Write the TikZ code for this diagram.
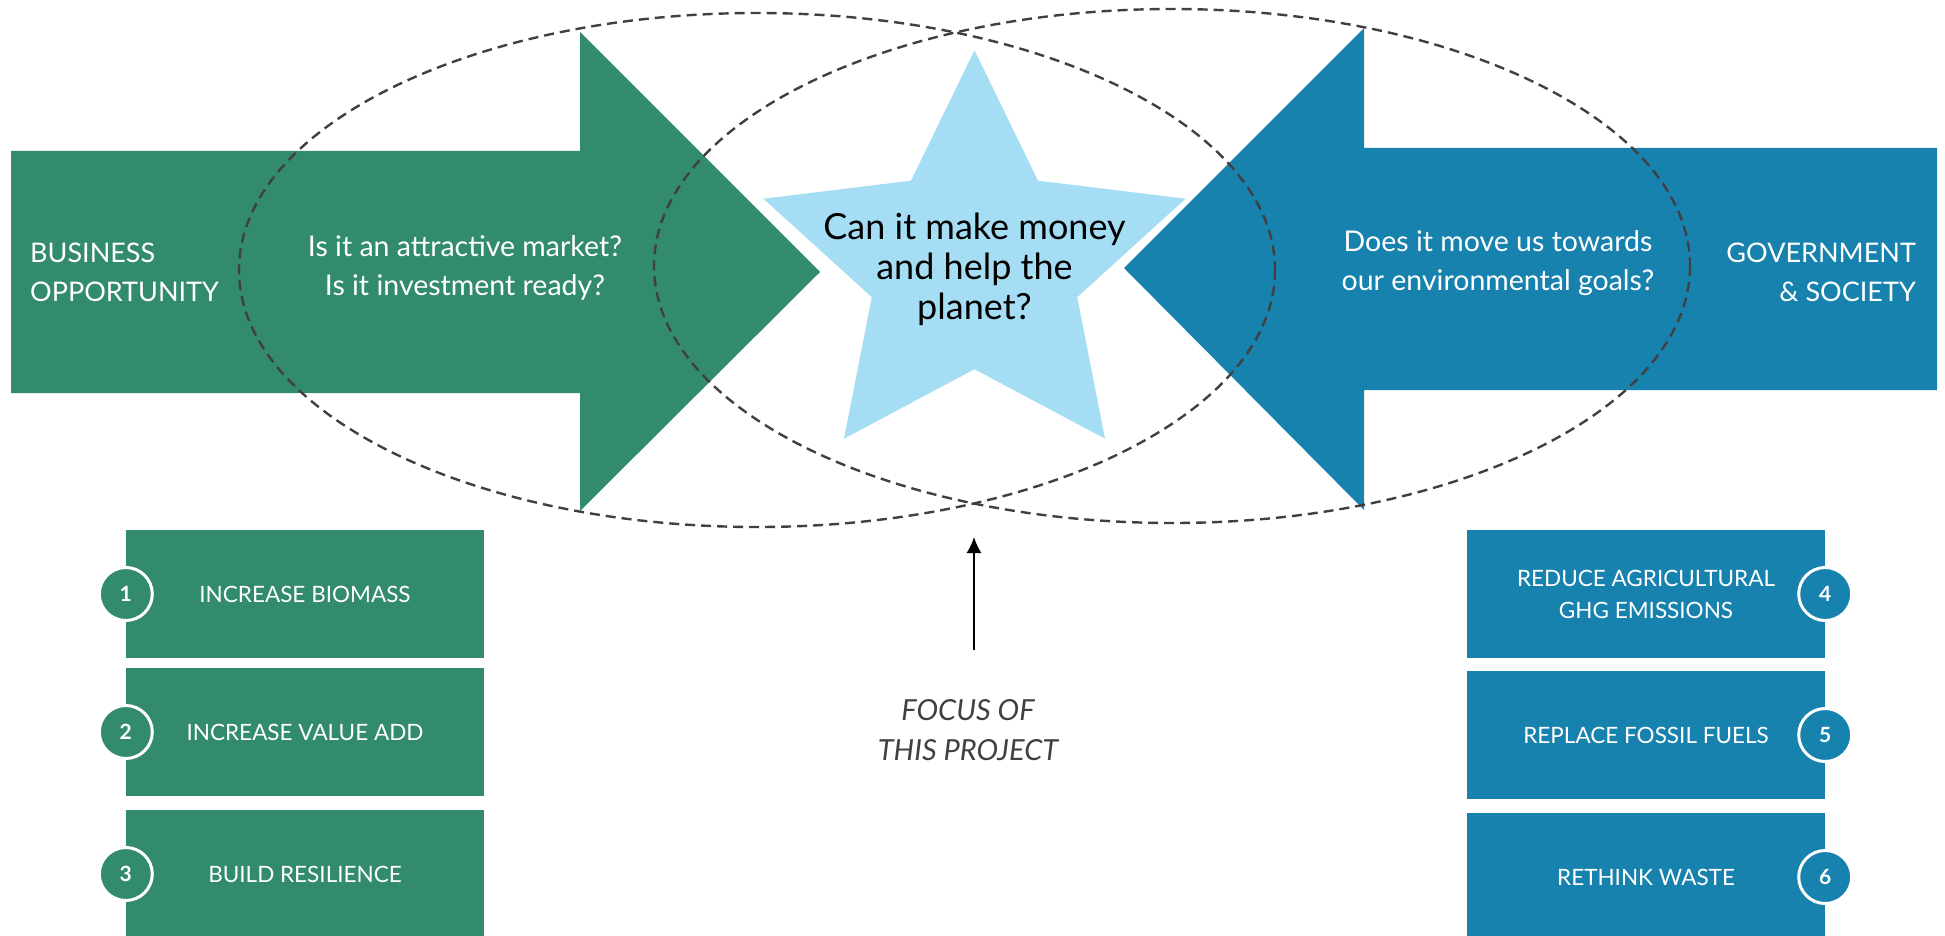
\documentclass[tikz,border=0pt]{standalone}
\usepackage{fontspec}
\setmainfont{Lato}
\usetikzlibrary{arrows.meta}
\definecolor{leafgreen}{RGB}{50,139,111}
\definecolor{seablue}{RGB}{23,130,174}
\definecolor{skyblue}{RGB}{165,222,244}
\definecolor{dashgray}{RGB}{64,64,64}
\tikzset{
  goalbox/.style={minimum width=358pt, minimum height=128pt, inner sep=0pt, text=white, align=center, font=\fontsize{22.5}{32}\selectfont},
  goalnum/.style={circle, draw=white, line width=3pt, minimum size=53pt, inner sep=0pt, text=white, font=\bfseries\fontsize{21}{21}\selectfont},
  armtext/.style={text=white, inner sep=0pt, font=\fontsize{28.5}{39}\selectfont},
  sidetext/.style={text=white, inner sep=0pt, font=\fontsize{27}{39}\selectfont},
  startext/.style={align=center, inner sep=0pt, font=\fontsize{36}{40}\selectfont},
  focustext/.style={align=center, inner sep=0pt, text=dashgray, font=\itshape\fontsize{29}{40}\selectfont},
  rim/.style={dashgray, line width=2.4pt, dash pattern=on 10pt off 6pt},
  focusarrow/.style={-{Latex[length=16pt,width=15pt]}, line width=1.7pt}
}
\begin{document}
\begin{tikzpicture}[x=1pt,y=-1pt]
  \useasboundingbox (0,0) rectangle (1945,936);

  % the two arms
  \fill[leafgreen] (11,151) -- (580,151) -- (580,32) -- (820,272) -- (580,511) -- (580,393) -- (11,393) -- cycle;
  \fill[seablue] (1937,148) -- (1364,148) -- (1364,28) -- (1124,268) -- (1364,510) -- (1364,390) -- (1937,390) -- cycle;

  % star in the middle
  \fill[skyblue] (974.5,50.3) -- (1038.0,180.7) -- (1185.6,198.7) -- (1077.2,297.2) -- (1105.0,438.7)
    -- (974.5,369.2) -- (844.0,438.7) -- (871.8,297.2) -- (763.4,198.7) -- (911.0,180.7) -- cycle;
  \node[startext] (question) at (974.5,269) {Can it make money\\and help the\\planet?};

  \node[sidetext, anchor=west, align=left] (business) at (30,272) {BUSINESS\\OPPORTUNITY};
  \node[armtext, align=center] (market) at (465,268) {Is it an attractive market?\\Is it investment ready?};
  \node[armtext, align=center] (goals) at (1498,263) {Does it move us towards\\our environmental goals?};
  \node[sidetext, anchor=east, align=right] (society) at (1916,272) {GOVERNMENT\\\& SOCIETY};

  % overlapping ellipses
  \draw[rim] (757,270) ellipse [x radius=518, y radius=257];
  \draw[rim] (1172,266) ellipse [x radius=518, y radius=257];

  % focus arrow
  \node[focustext] (focus) at (968,730) {FOCUS OF\\THIS PROJECT};
  \coordinate (foot) at (974,650);
  \coordinate (tip) at (974,537);
  \draw[focusarrow] (foot) -- (tip);

  % business goals
  \node[goalbox, fill=leafgreen] (biomass) at (305,594) {INCREASE BIOMASS};
  \node[goalbox, fill=leafgreen] (value) at (305,732) {INCREASE VALUE ADD};
  \node[goalbox, fill=leafgreen] (resilience) at (305,874) {BUILD RESILIENCE};
  \node[goalnum, fill=leafgreen] (n1) at (biomass.west) {1};
  \node[goalnum, fill=leafgreen] (n2) at (value.west) {2};
  \node[goalnum, fill=leafgreen] (n3) at (resilience.west) {3};

  % environmental goals
  \node[goalbox, fill=seablue] (emissions) at (1646,594) {REDUCE AGRICULTURAL\\GHG EMISSIONS};
  \node[goalbox, fill=seablue] (fuels) at (1646,735) {REPLACE FOSSIL FUELS};
  \node[goalbox, fill=seablue] (waste) at (1646,877) {RETHINK WASTE};
  \node[goalnum, fill=seablue] (n4) at (emissions.east) {4};
  \node[goalnum, fill=seablue] (n5) at (fuels.east) {5};
  \node[goalnum, fill=seablue] (n6) at (waste.east) {6};
\end{tikzpicture}
\end{document}
